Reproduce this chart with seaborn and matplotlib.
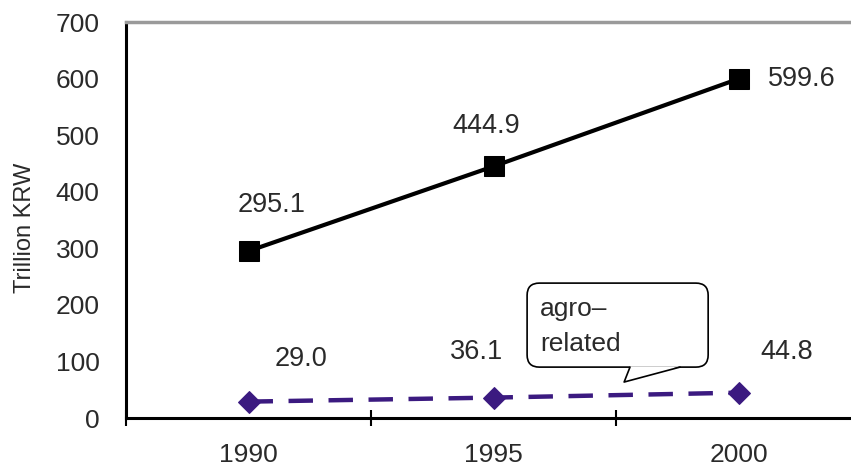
import numpy as np
import matplotlib
matplotlib.use("Agg")
import matplotlib.pyplot as plt
from matplotlib.patches import FancyBboxPatch, Polygon
import seaborn as sns

# data
years = ["1990", "1995", "2000"]
total = [295.1, 444.9, 599.6]
agro = [29.0, 36.1, 44.8]
total_labels = ["295.1", "444.9", "599.6"]
agro_labels = ["29.0", "36.1", "44.8"]

sns.set_theme(style="white")
plt.rcParams["font.family"] = ["Liberation Sans", "DejaVu Sans"]

TXT = "#2a2a2a"
PURPLE = "#3b1a80"

fig = plt.figure(figsize=(8.51, 4.69), dpi=100)
ax = fig.add_axes([0.1481, 0.1087, 0.8637, 0.8443])

xs = np.arange(len(years))
sns.lineplot(x=xs, y=total, ax=ax, color="black", linewidth=3,
             marker="s", markersize=14, markeredgecolor="black", zorder=5)
sns.lineplot(x=xs, y=agro, ax=ax, color=PURPLE, linewidth=3.2,
             marker="D", markersize=11, markeredgecolor=PURPLE,
             linestyle=(0, (5.5, 3.5)), zorder=5)

# value labels (offsets in data units)
off_total = [(0.094, 81), (-0.03, 71), (0.257, 0)]
for i, (v, t) in enumerate(zip(total, total_labels)):
    dx, dy = off_total[i]
    ax.text(xs[i] + dx, v + dy, t, fontsize=19.5, ha="center", va="center",
            color=TXT)
off_agro = [(0.216, 76), (-0.07, 80), (0.196, 72)]
for i, (v, t) in enumerate(zip(agro, agro_labels)):
    dx, dy = off_agro[i]
    ax.text(xs[i] + dx, v + dy, t, fontsize=19.5, ha="center", va="center",
            color=TXT)

# speech-bubble callout
box = FancyBboxPatch((1.137, 90), 0.739, 148.5,
                     boxstyle="round,pad=0,rounding_size=0.05",
                     mutation_aspect=430, fc="white", ec="black", lw=1.2,
                     zorder=6)
ax.add_patch(box)
tail = [(1.557, 91.5), (1.533, 63.6), (1.761, 91.5)]
ax.add_patch(Polygon(tail, closed=True, fc="white", ec="none", zorder=7))
ax.plot([1.557, 1.533, 1.761], [90, 63.6, 90], color="black", lw=1.2,
        zorder=8)
ax.text(1.19, 162, "agro\u2013\nrelated", fontsize=19, ha="left",
        va="center", linespacing=1.6, color=TXT, zorder=9)

ax.set_xlim(-0.5, 2.5)
ax.set_ylim(0, 700)
ax.set_yticks(np.arange(0, 701, 100))
ax.set_xticks([-0.5, 0.5, 1.5])
ax.set_xticklabels([])
ax.set_xticks(xs, minor=True)
ax.set_xticklabels(years, minor=True)
ax.tick_params(axis="x", which="major", direction="inout", length=11,
               width=1.5, color="black", bottom=True)
ax.tick_params(axis="x", which="minor", length=0, pad=18, labelsize=19,
               labelcolor=TXT)
ax.tick_params(axis="y", length=0, pad=19, labelsize=19, labelcolor=TXT)
fig.text(25 / 851, 0.514, "Trillion KRW", fontsize=17, rotation=90,
         ha="center", va="center", color=TXT)

for side in ["left", "bottom"]:
    ax.spines[side].set_color("black")
    ax.spines[side].set_linewidth(2.2)
ax.spines["top"].set_color("#9a9a9a")
ax.spines["top"].set_linewidth(2.5)
ax.spines["right"].set_color("#9a9a9a")
ax.grid(False)

fig.savefig("out.png", dpi=100)
